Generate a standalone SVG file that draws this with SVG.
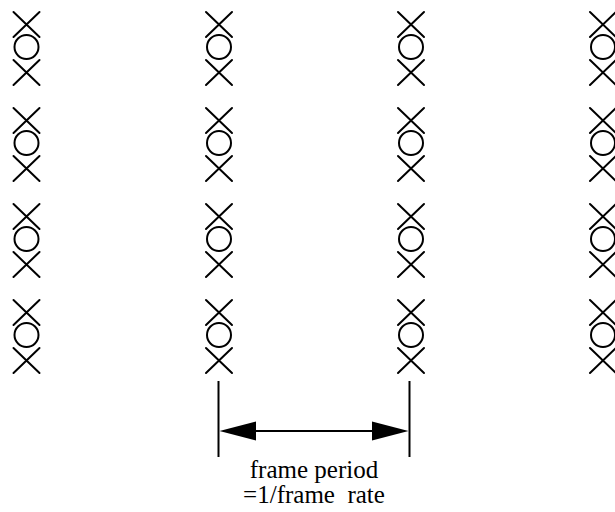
<svg xmlns="http://www.w3.org/2000/svg" xmlns:xlink="http://www.w3.org/1999/xlink" width="615" height="512" viewBox="0 0 615 512">
<style>
  .s{fill:none;stroke:#000;stroke-width:2;stroke-linecap:round}
  .ln{fill:none;stroke:#000;stroke-width:2}
  .ah{fill:#000;stroke:none}
  .t{font-family:"Liberation Serif","Times New Roman",serif;font-size:25px;fill:#000;text-anchor:middle}
</style>
<defs>
  <g id="xox">
    <path class="s" d="M-13,0 L13,25 M13,0 L-13,25"/>
    <circle class="s" cx="0" cy="35" r="12"/>
    <path class="s" d="M-13,48 L13,73 M13,48 L-13,73"/>
  </g>
</defs>
<rect width="615" height="512" fill="#fff"/>
<g id="col1">
  <use xlink:href="#xox" x="26.5" y="12"/>
  <use xlink:href="#xox" x="26.5" y="108"/>
  <use xlink:href="#xox" x="26.5" y="204"/>
  <use xlink:href="#xox" x="26.5" y="300"/>
</g>
<g id="col2">
  <use xlink:href="#xox" x="219" y="12"/>
  <use xlink:href="#xox" x="219" y="108"/>
  <use xlink:href="#xox" x="219" y="204"/>
  <use xlink:href="#xox" x="219" y="300"/>
</g>
<g id="col3">
  <use xlink:href="#xox" x="411" y="12"/>
  <use xlink:href="#xox" x="411" y="108"/>
  <use xlink:href="#xox" x="411" y="204"/>
  <use xlink:href="#xox" x="411" y="300"/>
</g>
<g id="col4">
  <use xlink:href="#xox" x="603" y="12"/>
  <use xlink:href="#xox" x="603" y="108"/>
  <use xlink:href="#xox" x="603" y="204"/>
  <use xlink:href="#xox" x="603" y="300"/>
</g>
<g id="connectors">
  <line class="ln" x1="218.5" y1="381" x2="218.5" y2="457"/>
  <line class="ln" x1="409.5" y1="381" x2="409.5" y2="457"/>
  <line class="ln" x1="250" y1="431" x2="378" y2="431"/>
  <polygon class="ah" points="219.5,431 256,421.5 256,440.5"/>
  <polygon class="ah" points="408.5,431 372,421.5 372,440.5"/>
</g>
<g id="label">
  <text class="t" x="314" y="478">frame period</text>
  <text class="t" x="314" y="503" xml:space="preserve">=1/frame  rate</text>
</g>
</svg>
